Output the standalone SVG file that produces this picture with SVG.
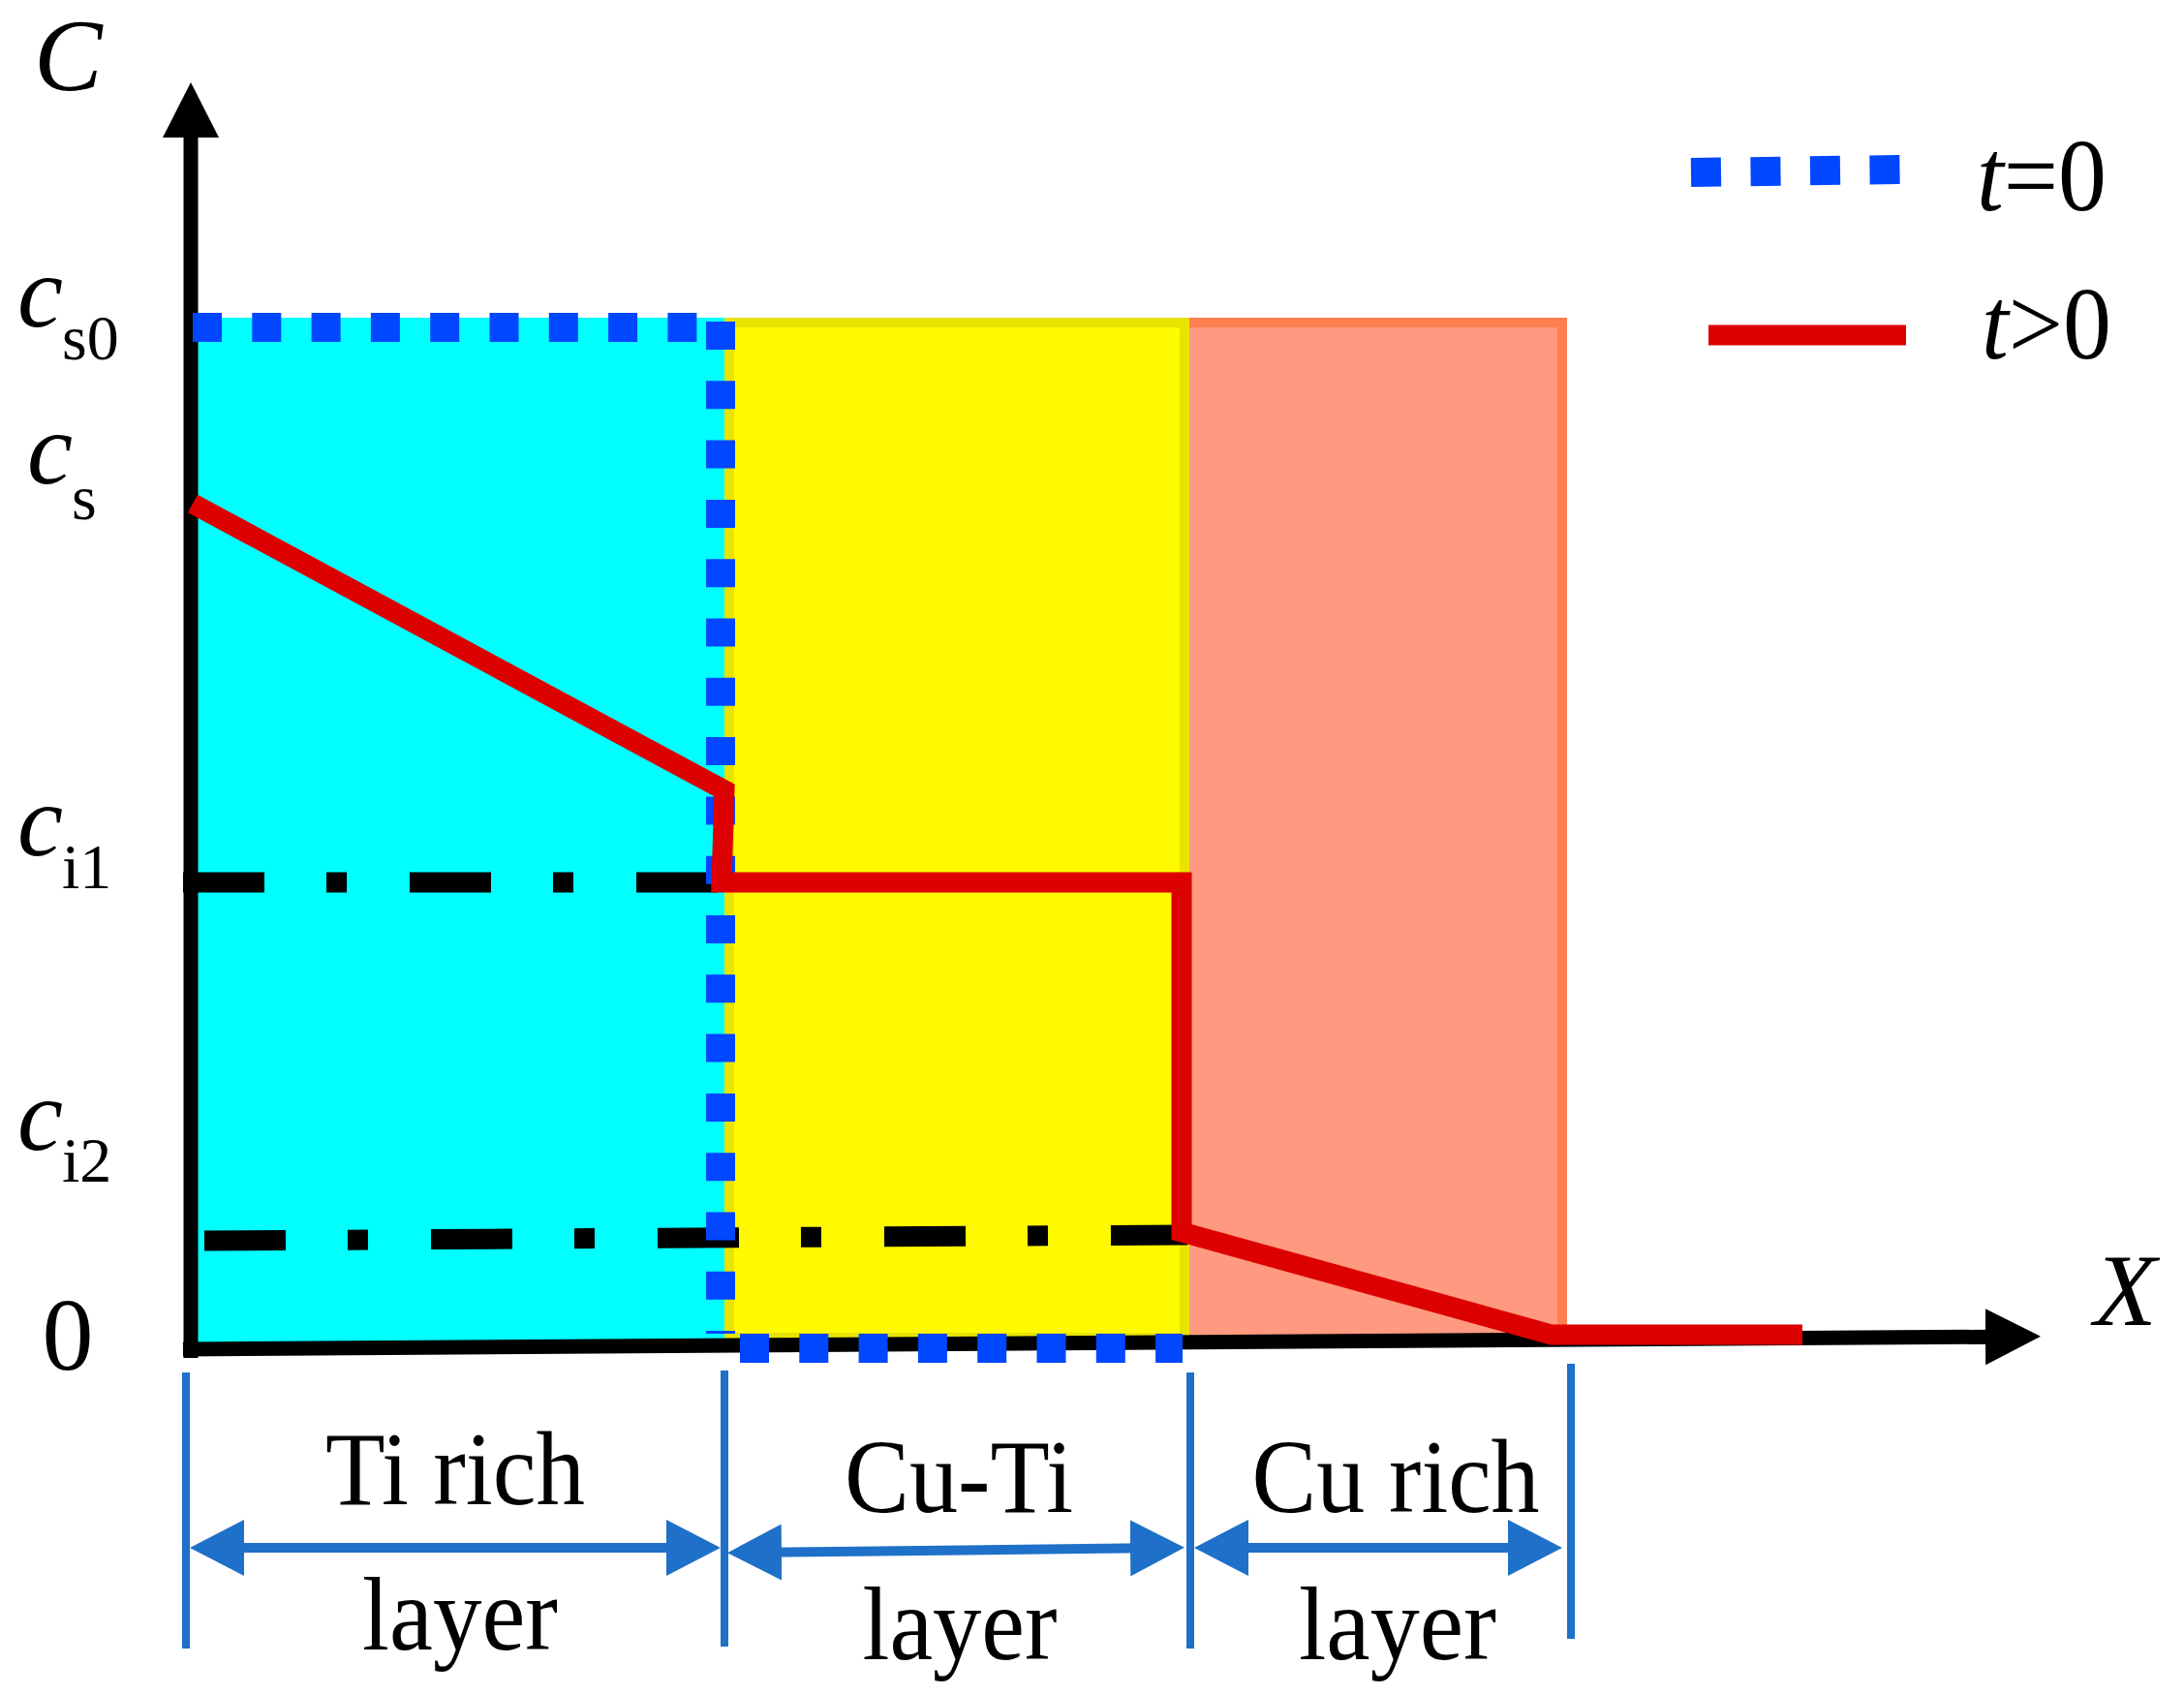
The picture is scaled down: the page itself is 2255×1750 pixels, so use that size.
<svg xmlns="http://www.w3.org/2000/svg" width="2255" height="1750" viewBox="0 0 2255 1750">
<style>
.lbl{font-family:"Liberation Serif","Times New Roman",serif;fill:#000}
.it{font-style:italic}
.big{font-size:106px}
.sub{font-size:66px}
.lay{font-size:108px}
.axis{stroke:#000;stroke-width:15;fill:none}
.dd{stroke:#000;stroke-width:21;fill:none;stroke-dasharray:84 64 21 65}
.dot{stroke:#0047FF;stroke-width:30;fill:none}
.red{stroke:#DD0000;stroke-width:21;fill:none;stroke-linejoin:miter}
.tick{stroke:#1F70C8;stroke-width:8}
.dim{stroke:#1F70C8;stroke-width:10;fill:none}
</style>
<defs>
<marker id="ah" markerUnits="userSpaceOnUse" markerWidth="57" markerHeight="58" viewBox="0 0 57 58" refX="37" refY="29" orient="auto-start-reverse">
<path d="M0,0 L57,29 L0,58 z" fill="#000"/>
</marker>
<marker id="bh" markerUnits="userSpaceOnUse" markerWidth="56" markerHeight="58" viewBox="0 0 56 58" refX="36" refY="29" orient="auto-start-reverse">
<path d="M0,0 L56,29 L0,58 z" fill="#1F70C8"/>
</marker>
</defs>
<rect width="2255" height="1750" fill="#fff"/>
<g id="regions">
<rect id="ti-rich-region" x="200" y="328" width="548" height="1058" fill="#00FFFF"/>
<rect id="cuti-region" x="753" y="333" width="470" height="1048" fill="#FFFA00" stroke="#E8E400" stroke-width="10"/>
<g id="curich-region">
<rect x="1228" y="328" width="390" height="1053" fill="#FF9A80"/>
<polyline points="1228,333 1613,333 1613,1381" fill="none" stroke="#FF7F50" stroke-width="10"/>
</g>
</g>
<g id="axes">
<line class="axis" x1="197" y1="1402" x2="197" y2="105" marker-end="url(#ah)"/>
<line class="axis" x1="189" y1="1393" x2="2087" y2="1380" marker-end="url(#ah)"/>
</g>
<g id="levels">
<line class="dd" x1="189" y1="911" x2="741" y2="911"/>
<line class="dd" x1="211" y1="1281" x2="1226" y2="1275"/>
</g>
<g id="connectors">
<line class="dot" x1="199" y1="338" x2="720" y2="338" stroke-dasharray="30 31.3" stroke-width="31"/>
<line class="dot" x1="744" y1="332" x2="744" y2="1377" stroke-dasharray="29 32.3"/>
<line class="dot" x1="764" y1="1392" x2="1221" y2="1392" stroke-dasharray="30 31.3"/>
<polyline class="red" points="199,520 748,816 745,911 1220,911 1220,1272 1602,1378 1861,1378"/>
</g>
<g id="y-labels" class="lbl">
<text class="it big" x="35" y="93" font-size="110">C</text>
<text x="18" y="337"><tspan class="it big">c</tspan></text>
<text class="sub" x="64" y="371">s0</text>
<text x="28" y="499"><tspan class="it big">c</tspan></text>
<text class="sub" x="74" y="536">s</text>
<text x="18" y="883"><tspan class="it big">c</tspan></text>
<text class="sub" x="64" y="917">i1</text>
<text x="18" y="1187"><tspan class="it big">c</tspan></text>
<text class="sub" x="64" y="1220">i2</text>
<text class="big" x="70" y="1414" text-anchor="middle">0</text>
<text class="it big" x="2162" y="1368" font-size="112">X</text>
</g>
<g id="legend" class="lbl">
<line class="dot" x1="1746" y1="178" x2="1962" y2="175" stroke-width="32" stroke-dasharray="31 30.5"/>
<line class="red" x1="1764" y1="346" x2="1968" y2="346" stroke-width="22"/>
<text class="big" x="2041" y="217" textLength="134" lengthAdjust="spacingAndGlyphs"><tspan class="it">t</tspan>=0</text>
<text class="big" x="2046" y="370" textLength="134" lengthAdjust="spacingAndGlyphs"><tspan class="it">t</tspan>&gt;0</text>
</g>
<g id="dimensions">
<line class="tick" x1="192" y1="1417" x2="192" y2="1702"/>
<line class="tick" x1="748" y1="1415" x2="748" y2="1700"/>
<line class="tick" x1="1229" y1="1417" x2="1229" y2="1702"/>
<line class="tick" x1="1622" y1="1408" x2="1622" y2="1692"/>
<line class="dim" x1="216" y1="1598" x2="724" y2="1598" marker-start="url(#bh)" marker-end="url(#bh)"/>
<line class="dim" x1="771" y1="1603" x2="1203" y2="1598" marker-start="url(#bh)" marker-end="url(#bh)"/>
<line class="dim" x1="1253" y1="1598" x2="1593" y2="1598" marker-start="url(#bh)" marker-end="url(#bh)"/>
</g>
<g id="layer-ti-rich" class="lbl lay">
<text x="470" y="1553" text-anchor="middle" textLength="268" lengthAdjust="spacingAndGlyphs">Ti rich</text>
<text x="475" y="1703" text-anchor="middle" textLength="202" lengthAdjust="spacingAndGlyphs">layer</text>
</g>
<g id="layer-cu-ti" class="lbl lay">
<text x="990" y="1561" text-anchor="middle" textLength="236" lengthAdjust="spacingAndGlyphs">Cu-Ti</text>
<text x="991" y="1713" text-anchor="middle" textLength="201" lengthAdjust="spacingAndGlyphs">layer</text>
</g>
<g id="layer-cu-rich" class="lbl lay">
<text x="1441" y="1561" text-anchor="middle" textLength="297" lengthAdjust="spacingAndGlyphs">Cu rich</text>
<text x="1443" y="1713" text-anchor="middle" textLength="204" lengthAdjust="spacingAndGlyphs">layer</text>
</g>
</svg>
